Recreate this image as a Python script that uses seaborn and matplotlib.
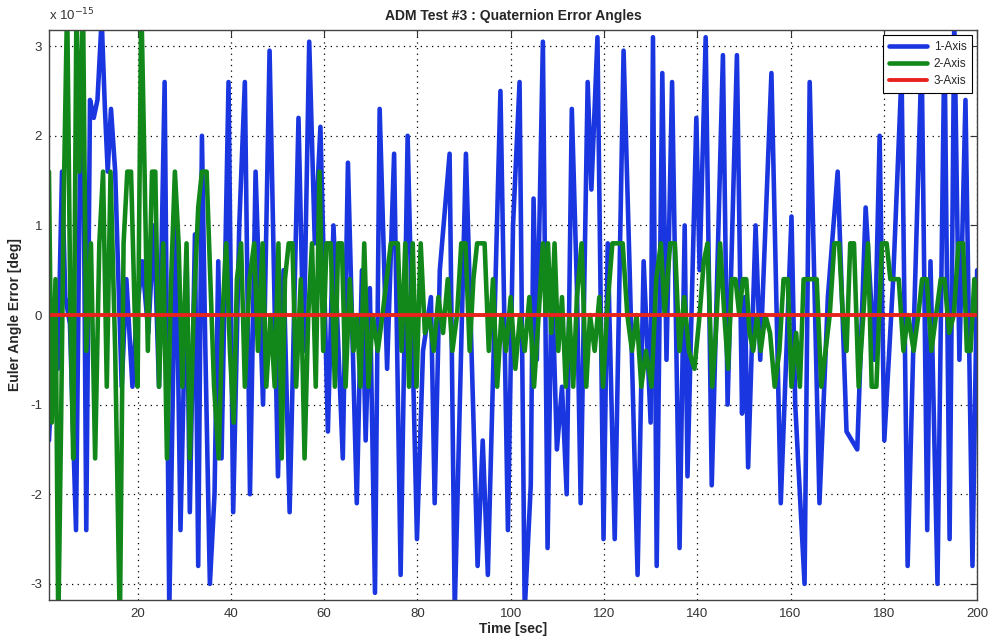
import matplotlib
matplotlib.use('Agg')
from matplotlib import pyplot as plt
import pandas as pd
import seaborn as sns

# values in units of 1e-15 deg
blue_t = [1.0, 2.0, 2.9, 3.8, 4.5, 5.5, 6.8, 7.8, 8.4, 9.0,
          9.8, 10.6, 11.4, 12.3, 13.0, 13.6, 14.3, 15.2, 16.0, 16.6,
          17.6, 18.9, 19.8, 21.0, 22.3, 23.5, 24.6, 25.8, 26.8, 28.2,
          29.2, 30.5, 31.2, 32.3, 33.0, 33.8, 34.5, 35.5, 36.5, 37.3,
          38.0, 39.5, 40.5, 41.8, 43.0, 44.1,
          45.3, 46.9, 48.3, 50.1, 51.3, 52.6, 54.5, 55.6, 56.8, 58.0,
          59.2, 60.8, 62.0, 64.0, 65.1, 67.0, 68.1, 68.9, 69.8, 70.9,
          71.9, 73.5, 75.0, 76.4, 77.9, 79.9, 81.2, 82.9, 83.7, 84.8,
          86.9, 88.0, 90.4, 92.9, 94.0, 95.1, 97.8,
          99.4, 100.5, 101.9, 103.0, 104.3, 104.9, 105.6, 106.9, 107.9, 108.8,
          109.9, 111.0, 112.0, 113.1, 114.2, 115.0, 116.5, 117.3, 118.6, 119.9,
          120.8, 122.3, 124.2, 125.5, 127.2, 128.5, 130.0, 130.5, 131.3, 132.5,
          133.4, 134.6, 136.2, 137.3, 137.9, 139.8, 140.5, 141.8, 143.1, 145.5,
          146.5, 148.5, 149.6, 150.2, 150.9,
          152.5, 153.5, 155.9, 157.9, 160.2, 161.0, 163.0, 164.1, 166.2, 168.0,
          170.1, 172.0, 174.3, 176.1, 178.0, 179.1, 180.1, 182.0, 183.8, 185.1,
          186.5, 188.1, 189.3, 190.0, 191.5, 193.0, 194.1, 195.1, 196.2, 197.5,
          199.0, 200.0]
blue_v = [-1.4, -0.3, -0.6, 1.6, 0.2, -0.1, -2.4, 2.4, 1.9, -2.4,
          2.4, 2.2, 2.4, 3.3, 2.3, 1.6, 2.3, 1.6, 0.2, -0.8,
          0.4, -0.8, 0.0, 0.6, -0.2, 1.0, -0.8, 2.6, -3.3, 1.2,
          -2.4, 0.7, -2.2, 0.9, -2.8, 2.0, -0.3, -3.0, -2.0, 0.6,
          -1.6, 2.6, -2.2, 1.0, 2.6, -2.0,
          1.6, -1.0, 2.95, -1.8, 0.5, -2.2, 2.2, -0.4, 3.05, 0.8,
          2.1, -1.3, 1.0, -1.6, 1.7, -2.1, 0.5, -1.4, 0.3, -3.1,
          2.3, -0.6, 1.8, -2.9, 2.0, -2.5, -0.4, 0.2, -2.1, 0.5,
          1.8, -3.3, 1.8, -2.8, -1.4, -2.9, 2.5,
          -2.4, 1.0, 2.6, -3.3, -1.9, 1.3, -0.5, 3.05, -2.6, 0.5,
          -1.5, -0.8, -2.0, 2.3, 0.3, -2.1, 2.6, 1.4, 3.1, -2.5,
          0.8, -2.5, 2.95, 0.5, -2.9, 0.6, -1.2, 3.1, -2.8, 2.7,
          -0.5, 2.6, -2.6, 1.0, -1.8, 2.2, 0.5, 3.1, -1.9, 2.9,
          -1.0, 2.9, -1.1, 0.2, -1.7,
          1.0, -0.5, 2.7, -2.1, 1.1, -1.0, -3.0, 2.6, -2.1, 0.2,
          1.6, -1.3, -1.5, 1.2, -0.5, 2.0, -1.4, 0.4, 2.7, -2.8,
          0.0, 2.9, -2.4, 0.6, -3.0, 3.1, -2.5, 3.3, -0.5, 2.4,
          -2.8, 0.5]

green_t = [1.0, 1.6, 2.4, 3.0, 3.6, 4.2, 4.9, 5.6, 6.2, 6.9,
           7.5, 8.3, 9.0, 10.0, 10.9, 11.8, 12.6, 13.4, 14.2, 15.2,
           16.2, 17.0, 17.8, 18.6, 19.4, 20.0, 20.8, 21.5, 22.2, 23.1,
           23.8, 24.6, 25.5, 26.3, 27.2, 28.0, 28.8, 29.6, 30.5, 31.2,
           32.0, 33.0, 33.8, 34.8, 35.6, 36.4, 37.4, 38.2, 39.0, 39.8,
           40.6, 41.3,
           42.2, 43.0, 44.0, 45.0, 45.8, 46.8, 47.6, 48.5, 49.4, 50.2,
           50.9, 51.6, 52.4, 53.2, 54.0, 55.0, 55.8, 56.6, 57.4, 58.2,
           59.0, 59.8, 60.5, 61.4, 62.3, 63.0, 63.8, 64.6, 65.5, 66.3,
           67.0, 67.8, 68.6, 69.5, 70.4, 71.5, 72.5, 73.4, 74.3, 75.0,
           75.8, 76.6, 77.4, 78.2, 79.0, 79.8, 80.7, 81.6, 82.5, 83.5,
           84.5, 85.5, 86.5, 87.5, 88.5, 89.4, 90.3, 91.2, 92.0, 92.8,
           93.6, 94.4, 95.3, 96.2, 97.1,
           98.0, 99.0, 100.0, 101.0, 102.0, 103.0, 104.0, 105.0, 106.0, 106.9,
           107.5, 108.0, 108.7, 109.4, 110.2, 111.0, 111.8, 112.6, 113.4, 114.2,
           115.2, 116.2, 117.0, 118.0, 119.0, 119.8, 120.6, 121.8, 123.0, 124.0,
           125.0, 126.0, 127.0, 128.0, 129.0, 130.2, 131.2, 132.2, 133.0, 134.2,
           135.2, 136.2, 137.2, 138.2, 139.4, 140.5, 141.4, 142.2, 143.2, 144.0,
           144.9, 145.8, 146.6, 147.4, 148.2, 149.0, 149.8, 150.5,
           151.2, 152.0, 152.8, 153.6, 154.6, 155.6, 156.6, 157.6, 158.5, 159.4,
           160.2, 161.2, 162.0, 162.8, 163.6, 164.6, 165.6, 166.6, 167.5, 168.4,
           169.4, 170.4, 171.2, 172.0, 172.8, 173.6, 174.6, 175.6, 176.6, 177.4,
           178.4, 179.6, 180.6, 181.4, 182.2, 183.2, 184.2, 185.2, 186.4, 187.4,
           188.2, 189.2, 190.2, 191.2, 192.2, 193.0, 194.0, 195.0, 196.0, 197.0,
           197.8, 198.6, 199.4, 200.0]
green_v = [1.6, -1.2, 0.4, -3.5, -1.2, 1.4, 3.5, 0.0, -1.6, 3.5,
           1.6, 3.5, -0.4, 0.8, -1.6, 0.8, 1.6, -0.8, 1.6, -0.4,
           -3.5, 0.8, 1.6, 1.6, 0.0, -0.8, 3.5, 1.6, -0.4, 1.6,
           1.6, -0.8, 0.8, -1.6, 0.4, 1.6, 0.8, -0.8, 0.8, -1.6,
           0.0, 1.2, 1.6, 1.6, 0.4, -0.8, -1.6, 0.0, 0.8, -0.4,
           -1.2, 0.4,
           0.8, -0.8, 0.4, 0.8, -0.4, 0.8, -0.8, 0.0, -0.8, 0.8,
           -1.6, 0.4, 0.8, 0.8, -0.8, 0.4, -1.6, 0.0, 0.8, -0.8,
           1.6, -0.4, 0.8, 0.8, -0.8, 0.8, 0.8, -0.8, 0.4, -0.4,
           0.0, -0.8, 0.8, -0.8, 0.0, -0.4, 0.0, 0.4, 0.8, 0.8,
           0.8, -0.4, 0.8, -0.8, 0.8, -0.8, 0.8, -0.2, 0.0, -0.4,
           0.2, -0.2, 0.4, -0.4, 0.0, 0.8, 0.8, -0.4, 0.4, 0.8,
           0.8, 0.8, -0.4, 0.4, -0.8,
           0.0, -0.4, 0.2, -0.6, 0.0, -0.4, 0.2, -0.8, 0.0, 0.8,
           0.0, 0.8, -0.2, 0.8, -0.4, 0.2, -0.8, 0.0, -0.8, 0.2,
           0.8, -0.8, 0.0, -0.4, 0.2, -0.8, 0.0, 0.8, 0.8, 0.8,
           0.0, -0.4, 0.0, -0.8, -0.4, -0.8, 0.4, 0.8, 0.0, 0.8,
           0.8, -0.4, 0.2, -0.4, -0.6, 0.0, 0.6, 0.8, -0.8, -0.2,
           0.8, 0.0, -0.6, 0.4, 0.4, 0.0, 0.4, 0.4,
           -0.2, -0.4, 0.0, -0.4, 0.0, -0.2, -0.8, -0.4, 0.4, 0.4,
           -0.8, -0.2, -0.8, 0.4, 0.4, 0.4, 0.4, -0.8, -0.4, 0.0,
           0.8, 0.8, 0.0, -0.4, 0.8, 0.8, -0.8, 0.0, 0.8, -0.8,
           -0.8, 0.8, 0.8, 0.4, 0.4, 0.4, -0.4, 0.0, -0.4, 0.0,
           0.4, 0.4, -0.4, 0.0, 0.4, 0.4, -0.2, 0.0, 0.8, 0.8,
           -0.4, -0.4, 0.4, 0.0]

red_t = [1.0, 200.0]
red_v = [0.0, 0.0]

x_ticks = [20, 40, 60, 80, 100, 120, 140, 160, 180, 200]
y_ticks = [-3, -2, -1, 0, 1, 2, 3]

df_blue = pd.DataFrame({'t': blue_t, 'v': blue_v})
df_green = pd.DataFrame({'t': green_t, 'v': green_v})
df_red = pd.DataFrame({'t': red_t, 'v': red_v})

sns.set_style('white')
plt.rcParams['font.family'] = ['Liberation Sans', 'DejaVu Sans']
plt.rcParams['axes.unicode_minus'] = False

fig = plt.figure(figsize=(9.91, 6.39), dpi=100)
ax = fig.add_axes([0.0494, 0.061, 0.9366, 0.892])

sns.lineplot(data=df_blue, x='t', y='v', ax=ax, color='#1a36e0', lw=3.3,
             estimator=None, sort=False, label='1-Axis')
sns.lineplot(data=df_green, x='t', y='v', ax=ax, color='#12881a', lw=3.3,
             estimator=None, sort=False, label='2-Axis')
sns.lineplot(data=df_red, x='t', y='v', ax=ax, color='#e8221c', lw=2.8,
             estimator=None, sort=False, label='3-Axis')

ax.set_xlim(1, 200)
ax.set_ylim(-3.18, 3.18)
ax.set_xticks(x_ticks)
ax.set_yticks(y_ticks)

# the y values are in 1e-15 units, written as in the original
ax.text(0.0, 1.012, 'x 10$^{-15}$', transform=ax.transAxes, fontsize=9.5,
        ha='left', va='bottom', color='#333333')

ax.grid(True, color='black', linestyle=(0, (1, 3.5)), linewidth=0.9)
ax.tick_params(direction='in', length=5, top=True, right=True, labelsize=9.5,
               colors='#333333', pad=6)
ax.tick_params(axis='y', pad=5)
for s in ax.spines.values():
    s.set_color('#444444')
    s.set_linewidth(1.0)

ax.set_title('ADM Test #3 : Quaternion Error Angles', fontsize=10, fontweight='bold', pad=7)
ax.set_xlabel('Time [sec]', fontsize=10, fontweight='bold', labelpad=1)
ax.set_ylabel('Euler Angle Error [deg]', fontsize=10, fontweight='bold', labelpad=6)

leg = ax.legend(loc='upper right', fontsize=8.5, frameon=True, fancybox=False,
                edgecolor='black', framealpha=1, borderaxespad=0.4, handlelength=3.2,
                labelspacing=0.45, borderpad=0.5, handletextpad=0.6)
leg.get_frame().set_linewidth(0.8)

fig.savefig('out.png', dpi=100)
